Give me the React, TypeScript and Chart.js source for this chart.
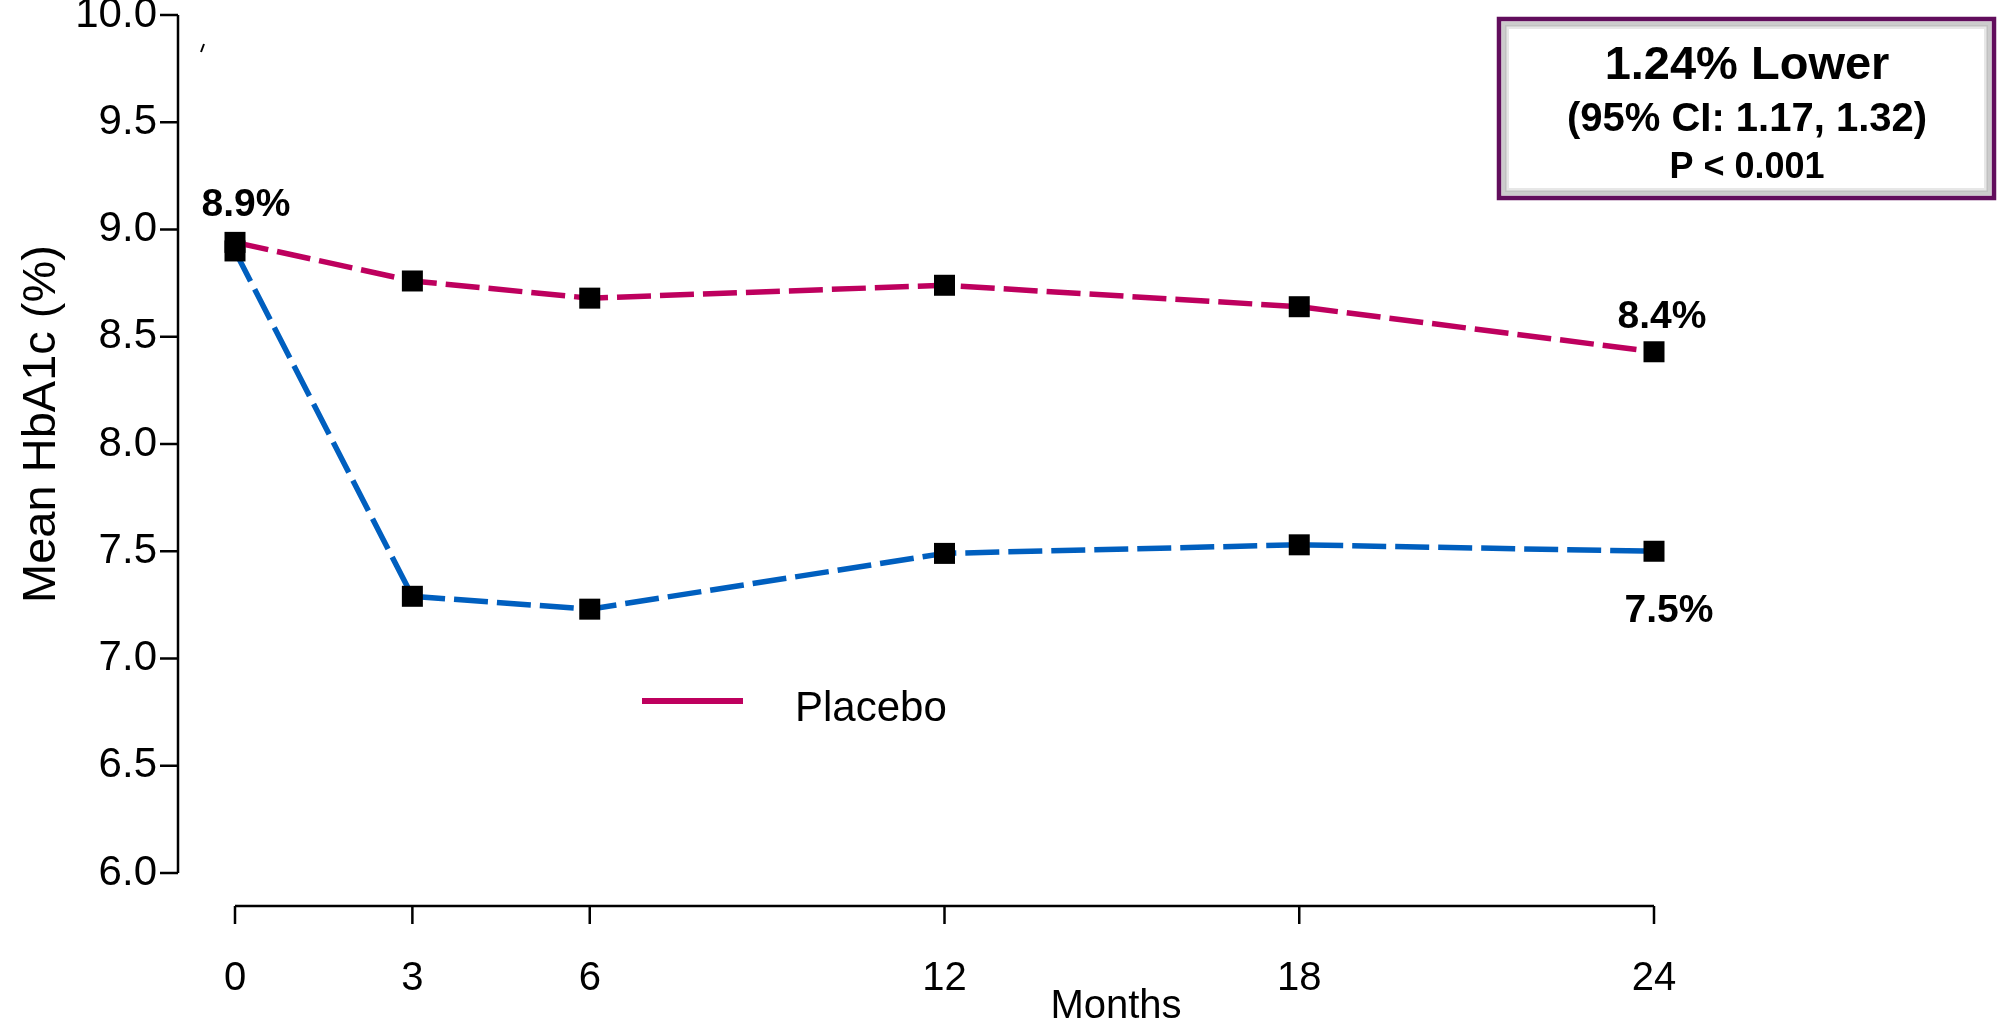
import React, { useEffect, useRef } from "react";
import { Chart, registerables } from "chart.js";

Chart.register(...registerables);

const months = [0, 3, 6, 12, 18, 24];
const placebo = [8.94, 8.76, 8.68, 8.74, 8.64, 8.43];
const treatment = [8.9, 7.29, 7.23, 7.49, 7.53, 7.5];
const xTicks = [0, 3, 6, 12, 18, 24];
const yTicks = [6.0, 6.5, 7.0, 7.5, 8.0, 8.5, 9.0, 9.5, 10.0];
const seriesNames = ["Placebo", "Treatment"];
const pointLabelTexts = ["8.9%", "8.4%", "7.5%"];
const boxLines = ["1.24% Lower", "(95% CI: 1.17, 1.32)", "P < 0.001"];
const xTitle = "Months";
const yTitle = "Mean HbA1c (%)";

const FONT = "'Liberation Sans', Arial, Helvetica, sans-serif";
const MAGENTA = "#BE005E";
const BLUE = "#005FBF";

const W = 1997;
const H = 1027;

const overlayPlugin = {
  id: "overlay",
  afterDraw(chart: any) {
    const ctx = chart.ctx as CanvasRenderingContext2D;
    const xs = chart.scales.x;
    const ys = chart.scales.y;
    ctx.save();

    // y axis (detached, base-graphics style)
    const axX = chart.chartArea.left - 57;
    ctx.strokeStyle = "#000";
    ctx.lineWidth = 2.5;
    ctx.beginPath();
    ctx.moveTo(axX, ys.getPixelForValue(yTicks[yTicks.length - 1]));
    ctx.lineTo(axX, ys.getPixelForValue(yTicks[0]));
    ctx.stroke();
    yTicks.forEach((v) => {
      const py = ys.getPixelForValue(v);
      ctx.beginPath();
      ctx.moveTo(axX - 18, py);
      ctx.lineTo(axX, py);
      ctx.stroke();
    });

    // x axis
    const axY = chart.chartArea.bottom + 33;
    ctx.beginPath();
    ctx.moveTo(xs.getPixelForValue(xTicks[0]), axY);
    ctx.lineTo(xs.getPixelForValue(xTicks[xTicks.length - 1]), axY);
    ctx.stroke();
    xTicks.forEach((v) => {
      const px = xs.getPixelForValue(v);
      ctx.beginPath();
      ctx.moveTo(px, axY);
      ctx.lineTo(px, axY + 18);
      ctx.stroke();
    });

    // small stray mark near top of plot (as in the source image)
    ctx.lineWidth = 2;
    ctx.beginPath();
    ctx.moveTo(204, 44);
    ctx.lineTo(201, 52);
    ctx.stroke();

    // axis titles
    ctx.fillStyle = "#000";
    ctx.font = `40px ${FONT}`;
    ctx.textAlign = "center";
    ctx.textBaseline = "middle";
    ctx.fillText(xTitle, 1116, 1007);

    ctx.save();
    ctx.translate(42, 424);
    ctx.rotate(-Math.PI / 2);
    ctx.font = `47px ${FONT}`;
    ctx.fillText(yTitle, 0, 0);
    ctx.restore();

    // point value labels
    ctx.font = `bold 39px ${FONT}`;
    ctx.textBaseline = "alphabetic";
    const lbls = [
      { t: pointLabelTexts[0], x: months[0], y: placebo[0], dx: 11, dy: -26 },
      { t: pointLabelTexts[1], x: months[5], y: placebo[5], dx: 8, dy: -24 },
      { t: pointLabelTexts[2], x: months[5], y: treatment[5], dx: 15, dy: 71 },
    ];
    lbls.forEach((l) => {
      ctx.fillText(l.t, xs.getPixelForValue(l.x) + l.dx, ys.getPixelForValue(l.y) + l.dy);
    });

    // legend
    ctx.strokeStyle = MAGENTA;
    ctx.lineWidth = 6;
    ctx.beginPath();
    ctx.moveTo(642, 701);
    ctx.lineTo(743, 701);
    ctx.stroke();
    ctx.fillStyle = "#000";
    ctx.font = `42px ${FONT}`;
    ctx.textAlign = "left";
    ctx.textBaseline = "middle";
    ctx.fillText(seriesNames[0], 795, 709);

    // annotation box
    const bx = 1499, by = 19, bw = 495, bh = 179;
    ctx.fillStyle = "#fff";
    ctx.fillRect(bx, by, bw, bh);
    ctx.strokeStyle = "rgba(110,110,110,0.35)";
    ctx.lineWidth = 5;
    ctx.strokeRect(bx + 5, by + 5, bw - 10, bh - 10);
    ctx.strokeStyle = "rgba(160,160,160,0.25)";
    ctx.lineWidth = 4;
    ctx.strokeRect(bx + 8, by + 8, bw - 16, bh - 16);
    ctx.strokeStyle = "#610D5C";
    ctx.lineWidth = 4.5;
    ctx.strokeRect(bx, by, bw, bh);

    ctx.fillStyle = "#000";
    ctx.textAlign = "center";
    ctx.textBaseline = "alphabetic";
    const cx = 1747;
    ctx.font = `bold 47px ${FONT}`;
    ctx.fillText(boxLines[0], cx, 79);
    ctx.font = `bold 40px ${FONT}`;
    ctx.fillText(boxLines[1], cx, 131);
    ctx.font = `bold 36px ${FONT}`;
    ctx.fillText(boxLines[2], cx, 178);

    ctx.restore();
  },
};

export default function App() {
  const ref = useRef<HTMLCanvasElement | null>(null);

  useEffect(() => {
    if (!ref.current) return;
    Chart.defaults.font.family = FONT;
    const common = {
      borderWidth: 5.5,
      borderDash: [34, 9],
      pointStyle: "rect" as const,
      pointRadius: 14.85,
      pointBackgroundColor: "#000",
      pointBorderColor: "#000",
      pointBorderWidth: 0,
      fill: false,
      tension: 0,
      clip: false as any,
    };
    const chart = new Chart(ref.current, {
      type: "line",
      data: {
        datasets: [
          {
            label: seriesNames[0],
            data: months.map((m, i) => ({ x: m, y: placebo[i] })),
            borderColor: MAGENTA,
            ...common,
          },
          {
            label: seriesNames[1],
            data: months.map((m, i) => ({ x: m, y: treatment[i] })),
            borderColor: BLUE,
            ...common,
          },
        ],
      },
      options: {
        responsive: false,
        animation: false,
        devicePixelRatio: 1,
        layout: { padding: { left: 0, right: W - 1654, top: 15, bottom: 0 } },
        plugins: {
          legend: { display: false },
          tooltip: { enabled: false },
        },
        scales: {
          x: {
            type: "linear",
            position: "bottom",
            min: 0,
            max: 24,
            afterFit: (s: any) => {
              s.height = H - 873;
              s.paddingLeft = 0;
              s.paddingRight = 0;
            },
            afterBuildTicks: (s: any) => {
              s.ticks = xTicks.map((v) => ({ value: v }));
            },
            grid: { display: false, drawTicks: false },
            border: { display: false },
            ticks: {
              padding: 82,
              color: "#000",
              font: { size: 40, family: FONT },
              maxRotation: 0,
              autoSkip: false,
              callback: (v: any) => String(v),
            },
          },
          y: {
            type: "linear",
            position: "left",
            min: 6,
            max: 10,
            afterFit: (s: any) => {
              s.width = 235;
              s.paddingTop = 0;
              s.paddingBottom = 0;
            },
            afterBuildTicks: (s: any) => {
              s.ticks = yTicks.map((v) => ({ value: v }));
            },
            grid: { display: false, drawTicks: false },
            border: { display: false },
            ticks: {
              padding: 78,
              color: "#000",
              font: { size: 42, family: FONT },
              autoSkip: false,
              callback: (v: any) => Number(v).toFixed(1),
            },
          },
        },
      },
      plugins: [overlayPlugin],
    });
    return () => chart.destroy();
  }, []);

  return (
    <div style={{ position: "fixed", left: 0, top: 0, width: W, height: H, background: "#fff" }}>
      <canvas ref={ref} width={W} height={H} style={{ display: "block", width: W, height: H }} />
    </div>
  );
}
